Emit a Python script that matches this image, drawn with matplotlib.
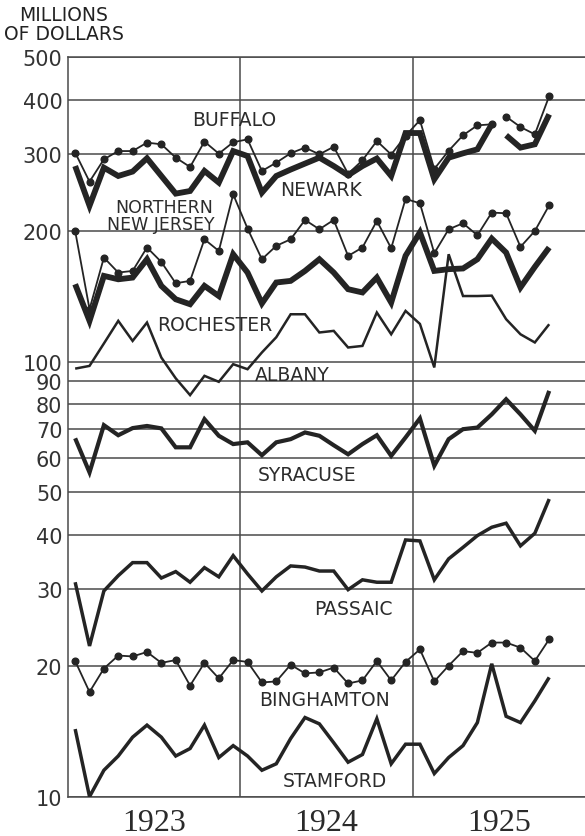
import numpy as np
import matplotlib
matplotlib.use('Agg')
import matplotlib.pyplot as plt
from matplotlib.ticker import NullLocator

plt.rcParams['font.family'] = ['DejaVu Sans']

# monthly bank debits, millions of dollars, Jan 1923 .. Oct 1925
months = np.arange(34)
buffalo = [302, 259, 291.5, 304.5, 304.5, 318.4, 315.6, 294.1, 279.9, 320.2, 300.4, 319,
           324, 274, 286.4, 301, 310.1, 299.3, 311.5, 270, 290, 321.2, 299, 330,
           358.6, 277, 305, 331, 348.9, 350.8, 365.3, 345.8, 332.7, 407.4]
newark = [281.3, 228, 278.9, 266.9, 273.2, 293.1, 266.9, 243.1, 246.5, 274.1, 257.7, 304.5,
          296.6, 244.4, 266.9, 276.1, 285, 294.1, 281.3, 267.9, 281.3, 292.7, 266.9, 335,
          335, 262.2, 294, 300.9, 307.3, 350.8, 331, 310.1, 315.6, 369.8]
north_nj = [199.5, 131.9, 173.3, 160.1, 161.5, 182.8, 169.3, 151.3, 153.2, 190.9, 179.5, 242.2,
            202.1, 171.8, 184.4, 190.9, 211.5, 201.3, 211.5, 174.8, 182.8, 210.4, 182.1, 236.4,
            231.0, 177.4, 201.3, 207.8, 195.0, 219.9, 219.1, 183.4, 199.5, 228.6]
rochester = [150.5, 124.0, 157.3, 154.5, 155.9, 171.8, 149.2, 139.0, 135.4, 149.2, 141.4, 176.4,
             160.1, 136, 151.9, 153.2, 161.5, 171.8, 160.1, 146.6, 144.1, 155.9, 136.6, 175,
             198, 161.5, 163, 163.6, 171.8, 191.6, 178, 148, 165, 182.8]
albany = [96.3, 97.7, 110.0, 124.0, 111.5, 122.9, 102.1, 91.5, 83.7, 92.7, 89.8, 98.6,
          96.0, 104.9, 113.7, 128.4, 128.4, 116.6, 117.6, 107.7, 108.6, 129.6, 115.5, 130.7,
          122.0, 96.9, 176.4, 141.4, 141.4, 141.7, 125.1, 115.5, 110.6, 121.8]
syracuse = [66.6, 55.6, 71.4, 67.7, 70.3, 71.1, 70.2, 63.5, 63.5, 73.7, 67.5, 64.6,
            65.2, 60.9, 65.2, 66.3, 68.7, 67.5, 64.2, 61.2, 64.6, 67.7, 60.7, 66.9,
            74.0, 57.6, 66.3, 69.9, 70.5, 75.6, 81.9, 75.6, 69.3, 85.6]
passaic = [31.1, 22.2, 29.7, 32.2, 34.5, 34.5, 31.8, 32.9, 31.1, 33.6, 32.0, 35.8,
           32.5, 29.7, 32.0, 33.9, 33.7, 33.0, 33.0, 29.9, 31.5, 31.1, 31.1, 38.9,
           38.7, 31.5, 35.2, 37.4, 39.8, 41.6, 42.5, 37.7, 40.3, 48.3]
binghamton = [20.5, 17.4, 19.7, 21.1, 21.0, 21.5, 20.3, 20.6, 18.0, 20.3, 18.7, 20.6,
              20.4, 18.3, 18.4, 20.1, 19.2, 19.3, 19.8, 18.2, 18.5, 20.5, 18.5, 20.4,
              21.8, 18.4, 20.0, 21.6, 21.4, 22.6, 22.6, 22.0, 20.5, 23.0]
stamford = [14.3, 10.0, 11.5, 12.4, 13.7, 14.6, 13.7, 12.4, 12.9, 14.6, 12.3, 13.1,
            12.4, 11.5, 11.9, 13.6, 15.2, 14.7, 13.3, 12.0, 12.5, 15.1, 11.9, 13.2,
            13.2, 11.3, 12.3, 13.1, 14.8, 20.2, 15.3, 14.8, 16.6, 18.8]

yticks = [10, 20, 30, 40, 50, 60, 70, 80, 90, 100, 200, 300, 400, 500]
years = ['1923', '1924', '1925']

ink = '#242424'
grid = '#4a4a4a'

fig = plt.figure(figsize=(5.85, 8.37), dpi=100)
ax = fig.add_axes([0.1162, 0.047, 0.884, 0.8833])
ax.set_yscale('log')
ax.set_ylim(10, 500)
ax.set_xlim(-0.5, 35.5)

for v in yticks:
    ax.axhline(v, color=grid, lw=1.1, zorder=1)
for x in [11.5, 23.5]:
    ax.axvline(x, color=grid, lw=1.1, zorder=1)


def draw(vals, lw, dots=False, brk=None):
    vals = np.asarray(vals, dtype=float)
    parts = [(months, vals)]
    if brk is not None:
        parts = [(months[:brk], vals[:brk]), (months[brk:], vals[brk:])]
    for mx, my in parts:
        if dots:
            ax.plot(mx, my, color=ink, lw=lw, marker='o', ms=4.8,
                    solid_joinstyle='round', zorder=4)
        else:
            ax.plot(mx, my, color=ink, lw=lw, solid_joinstyle='miter',
                    solid_capstyle='butt', zorder=3)


draw(newark, 4.2, brk=30)
draw(buffalo, 1.3, dots=True, brk=30)
draw(rochester, 4.2)
draw(north_nj, 1.3, dots=True)
draw(albany, 1.8)
draw(syracuse, 3.0)
draw(passaic, 2.5)
draw(binghamton, 1.3, dots=True)
draw(stamford, 2.5)

lab = dict(color='#2c2c2c', fontsize=13.5, ha='center', va='center', zorder=5)
ax.text(11.09, 360, 'BUFFALO', **lab)
ax.text(17.14, 248, 'NEWARK', **lab)
ax.text(9.6, 226.7, 'NORTHERN', **dict(lab, ha='right', fontsize=12.5))
ax.text(9.7, 206.7, 'NEW JERSEY', **dict(lab, ha='right', fontsize=12.5))
ax.text(9.73, 121.8, 'ROCHESTER', **lab)
ax.text(15.09, 93.3, 'ALBANY', **lab)
ax.text(16.13, 55.1, 'SYRACUSE', **lab)
ax.text(19.37, 27.0, 'PASSAIC', **lab)
ax.text(17.35, 16.76, 'BINGHAMTON', **lab)
ax.text(18.11, 10.92, 'STAMFORD', **lab)

ax.yaxis.set_minor_locator(NullLocator())
ax.set_yticks(yticks)
ax.set_yticklabels([str(v) for v in yticks])
ax.tick_params(axis='y', length=0, pad=4, labelsize=15, labelcolor='#333333')

ax.set_xticks([5.5, 17.5, 29.5])
ax.set_xticklabels(years, fontfamily='Liberation Serif', fontsize=23)
ax.tick_params(axis='x', length=0, pad=8, labelcolor='#2a2a2a')

for side in ['top', 'left', 'bottom']:
    ax.spines[side].set_color(grid)
    ax.spines[side].set_linewidth(1.1)
ax.spines['right'].set_visible(False)

fig.text(64 / 585, 1 - 25 / 837, 'MILLIONS\nOF DOLLARS', ha='center', va='center',
         multialignment='center', linespacing=0.95, fontsize=13.5, color='#222222')

fig.savefig('out.png', dpi=100, facecolor='white')
